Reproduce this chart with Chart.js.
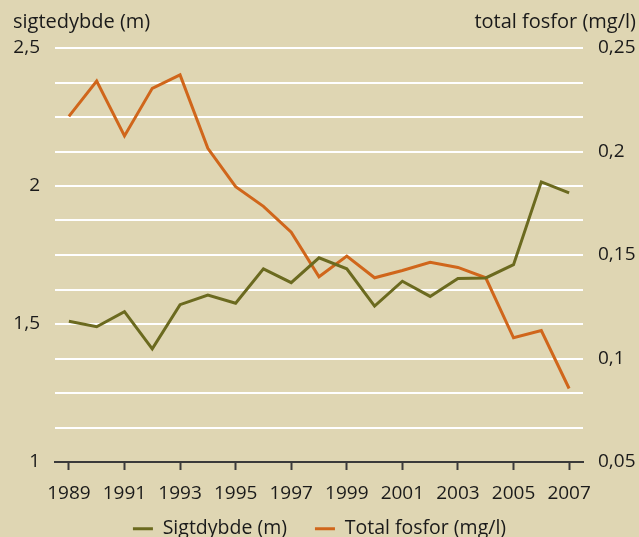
<!DOCTYPE html>
<html>
<head>
<meta charset="utf-8">
<script src="https://cdn.jsdelivr.net/npm/chart.js@4/dist/chart.umd.min.js"></script>
<style>
  html, body { margin: 0; padding: 0; background: #dfd6b3; }
  #wrap { width: 639px; height: 537px; position: relative; }
</style>
</head>
<body>
<div id="wrap"><canvas id="c" width="639" height="537"></canvas></div>
<script>
const years = ['1989','1990','1991','1992','1993','1994','1995','1996','1997','1998','1999','2000','2001','2002','2003','2004','2005','2006','2007'];
const sigtdybde = [1.51, 1.49, 1.545, 1.41, 1.57, 1.605, 1.575, 1.70, 1.65, 1.74, 1.70, 1.565, 1.655, 1.60, 1.665, 1.667, 1.715, 2.015, 1.975];
const fosfor = [0.217, 0.234, 0.2075, 0.2305, 0.237, 0.2015, 0.183, 0.1735, 0.161, 0.1395, 0.1495, 0.139, 0.1425, 0.1465, 0.144, 0.139, 0.110, 0.1135, 0.0855];
const leftTitle = 'sigtedybde (m)';
const rightTitle = 'total fosfor (mg/l)';
const seriesNames = ['Sigtdybde (m)', 'Total fosfor (mg/l)'];

const FONT = "'Open Sans', sans-serif";
const TXT = '#1a1a1a';
const GREEN = '#6b6a1f';
const ORANGE = '#d0661b';

const fmt = v => String(+v.toFixed(3)).replace('.', ',');

const bgPlugin = {
  id: 'bg',
  afterLayout(chart) {
    // let the x tick labels extend into the legend band (no clipping)
    if (chart.scales.x) chart.scales.x.bottom = chart.height;
  },
  beforeDraw(chart) {
    const ctx = chart.ctx;
    ctx.save();
    ctx.fillStyle = '#dfd6b3';
    ctx.fillRect(0, 0, chart.width, chart.height);
    ctx.restore();
  },
  afterDraw(chart) {
    const ctx = chart.ctx;
    ctx.save();
    ctx.font = '20px ' + FONT;
    ctx.fillStyle = TXT;
    ctx.textBaseline = 'alphabetic';
    ctx.textAlign = 'left';
    ctx.fillText(leftTitle, 13, 28);
    ctx.textAlign = 'right';
    ctx.fillText(rightTitle, 636, 28);
    ctx.restore();
  }
};

new Chart(document.getElementById('c'), {
  type: 'line',
  data: {
    labels: years,
    datasets: [
      { label: seriesNames[0], data: sigtdybde, yAxisID: 'y', borderColor: GREEN, backgroundColor: GREEN, borderWidth: 3, pointRadius: 0, tension: 0, pointStyle: 'line' },
      { label: seriesNames[1], data: fosfor, yAxisID: 'y1', borderColor: ORANGE, backgroundColor: ORANGE, borderWidth: 3, pointRadius: 0, tension: 0, pointStyle: 'line' }
    ]
  },
  options: {
    responsive: false,
    animation: false,
    layout: { padding: { top: 48, left: 0, right: 0, bottom: 0 } },
    plugins: {
      legend: {
        position: 'bottom',
        maxHeight: 46,
        labels: {
          usePointStyle: true,
          pointStyleWidth: 20,
          padding: 28,
          color: TXT,
          font: { family: FONT, size: 19.5 }
        }
      },
      tooltip: { enabled: false }
    },
    scales: {
      x: {
        type: 'category',
        offset: true,
        grid: {
          display: true,
          drawOnChartArea: false,
          drawTicks: true,
          tickLength: 8,
          offset: false,
          tickWidth: 2,
          tickColor: ctx => (ctx.index % 2 === 0 ? '#3a3a3a' : 'rgba(0,0,0,0)')
        },
        border: { display: true, color: '#3a3a3a', width: 2 },
        ticks: {
          autoSkip: false,
          maxRotation: 0,
          padding: 12,
          color: TXT,
          font: { family: FONT, size: 19 },
          callback: function(v, i) { return i % 2 === 0 ? years[i] : ''; }
        },
        afterFit: s => { s.height = 29; }
      },
      y: {
        position: 'left',
        min: 1,
        max: 2.5,
        grid: { color: '#ffffff', lineWidth: 2, drawTicks: false },
        border: { display: false },
        ticks: {
          stepSize: 0.125,
          padding: 15,
          color: TXT,
          font: { family: FONT, size: 19 },
          callback: v => (Math.abs(v * 2 - Math.round(v * 2)) < 1e-6 ? fmt(v) : '')
        },
        afterFit: s => { s.width = 55; }
      },
      y1: {
        position: 'right',
        min: 0.05,
        max: 0.25,
        grid: { drawOnChartArea: false, drawTicks: false },
        border: { display: false },
        ticks: {
          stepSize: 0.05,
          padding: 15,
          color: TXT,
          font: { family: FONT, size: 19 },
          callback: v => fmt(v)
        },
        afterFit: s => { s.width = 56; }
      }
    }
  },
  plugins: [bgPlugin]
});
</script>
</body>
</html>
